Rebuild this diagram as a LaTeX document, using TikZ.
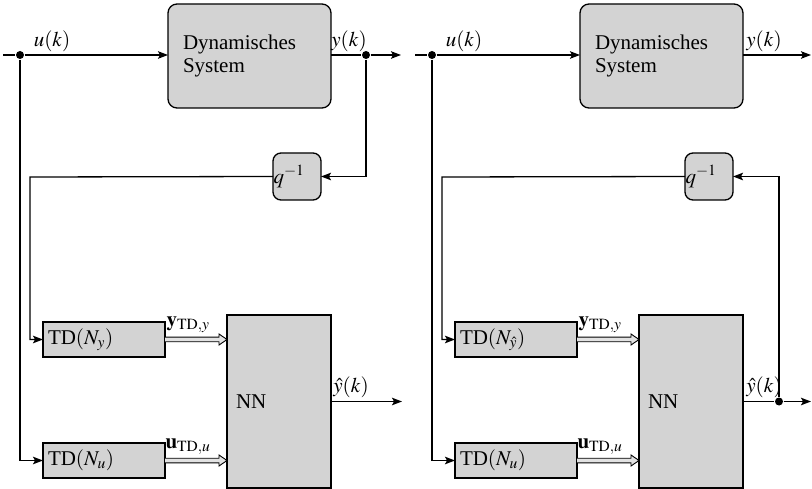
\documentclass[tikz,border=0pt]{standalone}
\usepackage{mathptmx}
\usepackage{fontspec}
\setmainfont{Liberation Serif}
\usetikzlibrary{arrows.meta,calc}
\definecolor{boxgray}{RGB}{211,211,211}
\definecolor{vecgray}{RGB}{226,226,226}

% hollow vector arrow from node anchor #1 to the point #2
\newcommand\vecarrow[2]{%
  \draw[line width=0.9pt, fill=vecgray]
    ($(#1)+(0,-2.3)$) -- ($(#2)+(-8,-2.3)$) -- ($(#2)+(-8,-5.5)$) -- (#2)
    -- ($(#2)+(-8,5.5)$) -- ($(#2)+(-8,2.3)$) -- ($(#1)+(0,2.3)$);}

\begin{document}
\begin{tikzpicture}[x=1pt, y=-1pt,
  font=\fontsize{21}{23}\selectfont,
  line width=1.3pt,
  >={Stealth[length=10pt,width=7.5pt,inset=2pt]},
  blk/.style={draw, fill=boxgray, outer sep=0pt, align=left},
  sysbox/.style={blk, rounded corners=9pt, minimum width=163, minimum height=104,
                 text width=133, inner xsep=15},
  delay/.style={blk, rounded corners=8pt, minimum width=48, minimum height=47,
                text width=47, inner xsep=0.5},
  tdbox/.style={blk, minimum width=122, minimum height=35, text width=112, inner xsep=5},
  nnbox/.style={blk, minimum width=104, minimum height=173, text width=86, inner xsep=9},
  dot/.style={circle, fill, inner sep=0pt, minimum size=8pt},
  lbl/.style={inner sep=1pt},
]
\useasboundingbox (0,0) rectangle (812,489);

% ---------- series-parallel structure ----------
\coordinate (inA) at (3,55);
\node[dot] (dA) at (20,55) {};
\node[sysbox] (dynA) at (249.5,56) {Dynamisches\\System};
\node[dot] (yA) at (366,55) {};
\coordinate (outA) at (401,55);
\node[delay] (qA) at (297,176.5) {\raisebox{-6pt}{$q^{-1}$}};
\coordinate (fbA) at (30,177);
\node[tdbox] (tdyA) at (104,339.5) {TD$(N_y)$};
\node[tdbox] (tduA) at (104,460.5) {TD$(N_u)$};
\node[nnbox] (nnA) at (279,401.5) {NN};
\coordinate (nnoutA) at (402,401.5);

\draw (inA) -- (dA);
\draw[->] (dA) -- (dynA.west |- dA);
\draw (dynA.east |- yA) -- (yA);
\draw[->] (yA) -- (outA);
\draw[->] (yA) |- (qA.east);
\draw[->] (qA.west) -- (fbA) |- (tdyA.west);
\draw[->] (dA) |- (tduA.west);
\vecarrow{tdyA.east}{tdyA.east -| nnA.west}
\vecarrow{tduA.east}{tduA.east -| nnA.west}
\draw[->] (nnA.east) -- (nnoutA);

\node[lbl, anchor=south] (uA) at (52,53) {$u(k)$};
\node[lbl, anchor=south] (ykA) at (349,53) {$y(k)$};
\node[lbl, anchor=south] (yhA) at (351,399) {$\hat{y}(k)$};
\node[lbl, anchor=south] (vyA) at (188,334) {$\mathbf{y}_{\mathrm{TD},y}$};
\node[lbl, anchor=south] (vuA) at (188,456) {$\mathbf{u}_{\mathrm{TD},u}$};

% ---------- parallel structure ----------
\coordinate (inB) at (415,55);
\node[dot] (dB) at (432,55) {};
\node[sysbox] (dynB) at (661.5,56) {Dynamisches\\System};
\coordinate (outB) at (811,55);
\node[delay] (qB) at (709,176.5) {\raisebox{-6pt}{$q^{-1}$}};
\coordinate (fbB) at (442,177);
\node[tdbox] (tdyB) at (516,339.5) {TD$(N_{\hat{y}})$};
\node[tdbox] (tduB) at (516,460.5) {TD$(N_u)$};
\node[nnbox] (nnB) at (691,401.5) {NN};
\node[dot] (yhB) at (779,401.5) {};
\coordinate (nnoutB) at (811,401.5);

\draw (inB) -- (dB);
\draw[->] (dB) -- (dynB.west |- dB);
\draw[->] (dynB.east |- dB) -- (outB);
\draw (nnB.east) -- (yhB);
\draw[->] (yhB) -- (nnoutB);
\draw[->] (yhB) |- (qB.east);
\draw[->] (qB.west) -- (fbB) |- (tdyB.west);
\draw[->] (dB) |- (tduB.west);
\vecarrow{tdyB.east}{tdyB.east -| nnB.west}
\vecarrow{tduB.east}{tduB.east -| nnB.west}

\node[lbl, anchor=south] (uB) at (464,53) {$u(k)$};
\node[lbl, anchor=south] (ykB) at (764,53) {$y(k)$};
\node[lbl, anchor=south] (yhlB) at (764,399) {$\hat{y}(k)$};
\node[lbl, anchor=south] (vyB) at (600,334) {$\mathbf{y}_{\mathrm{TD},y}$};
\node[lbl, anchor=south] (vuB) at (600,456) {$\mathbf{u}_{\mathrm{TD},u}$};
\end{tikzpicture}
\end{document}
